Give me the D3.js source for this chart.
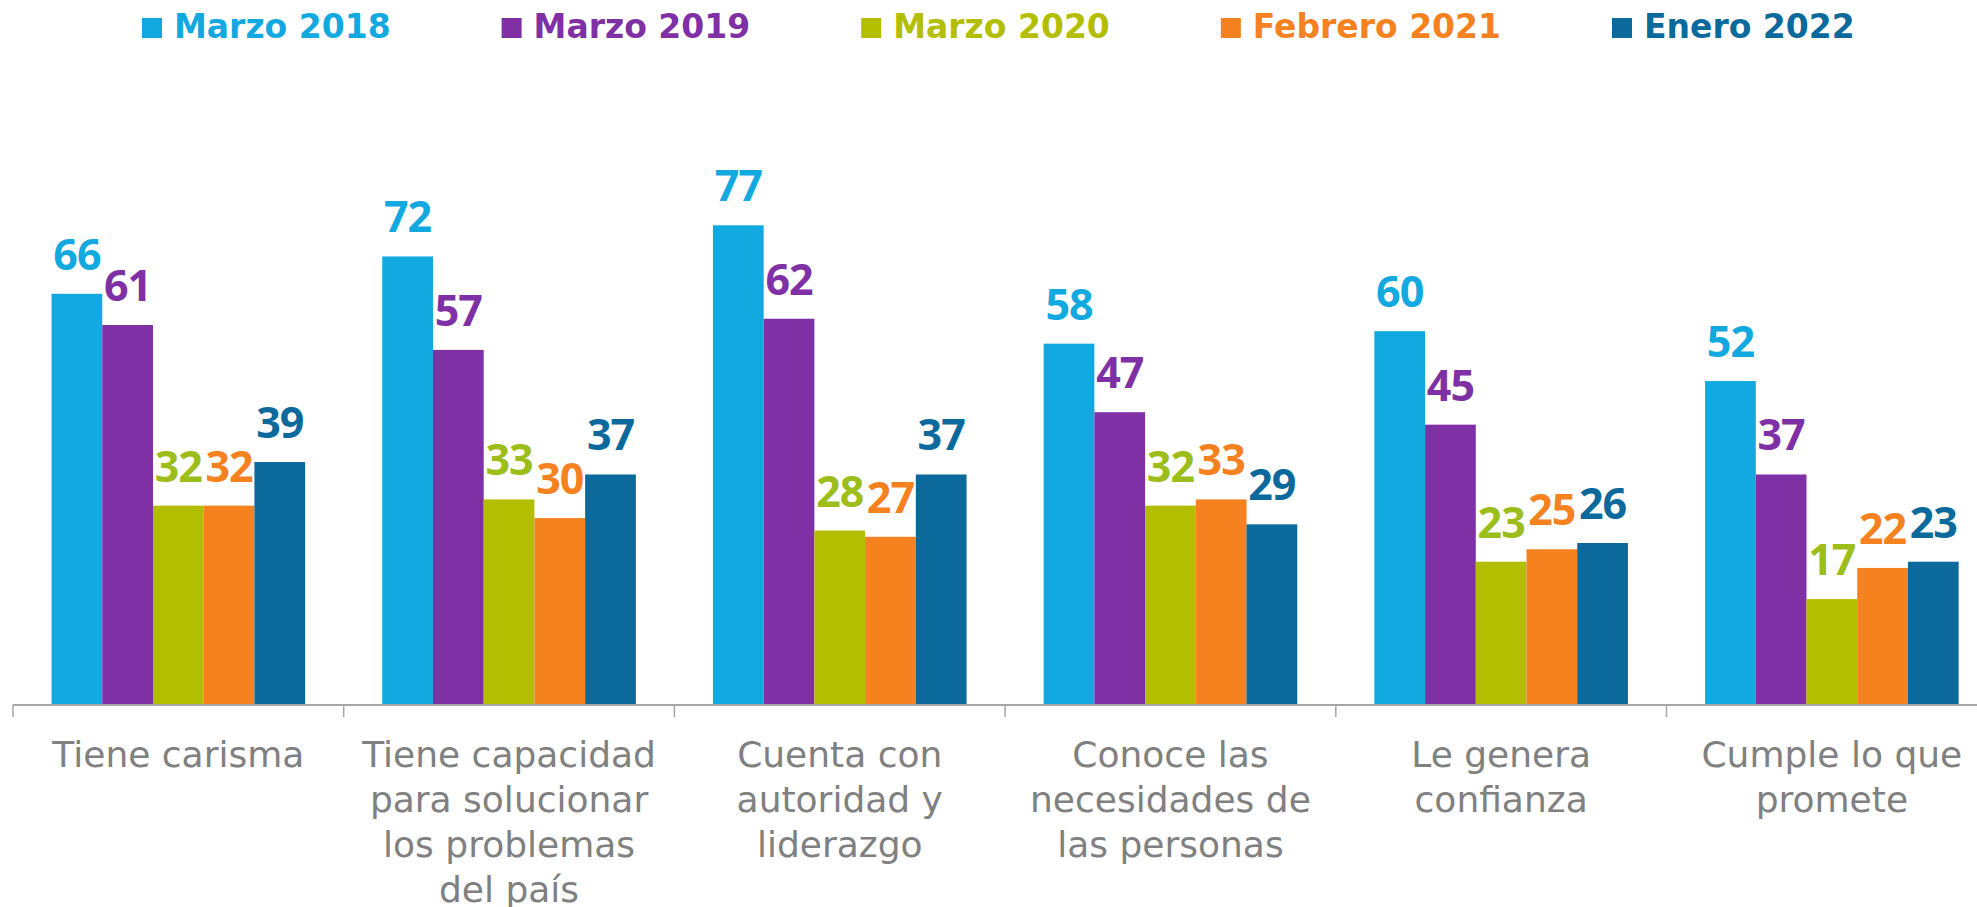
<!DOCTYPE html>
<html>
<head>
<meta charset="utf-8">
<script src="https://cdn.jsdelivr.net/npm/d3@7"></script>
<style>
  body { margin: 0; background: #fff; }
  svg { display: block; }
</style>
</head>
<body>
<svg id="svg" width="1977" height="907"></svg>
<script>
// data
var categories = [
  ["Tiene carisma"],
  ["Tiene capacidad", "para solucionar", "los problemas", "del país"],
  ["Cuenta con", "autoridad y", "liderazgo"],
  ["Conoce las", "necesidades de", "las personas"],
  ["Le genera", "confianza"],
  ["Cumple lo que", "promete"]
];
var series = ["Marzo 2018", "Marzo 2019", "Marzo 2020", "Febrero 2021", "Enero 2022"];
var marzo2018 = [66, 72, 77, 58, 60, 52];
var marzo2019 = [61, 57, 62, 47, 45, 37];
var marzo2020 = [32, 33, 28, 32, 23, 17];
var febrero2021 = [32, 30, 27, 33, 25, 22];
var enero2022 = [39, 37, 37, 29, 26, 23];
var values = [marzo2018, marzo2019, marzo2020, febrero2021, enero2022];

var barColors = ["#12a9e0", "#7f30a5", "#b4be00", "#f5821f", "#0b699c"];
var labelColors = ["#12a9e0", "#7f30a5", "#9dbd1a", "#f5821f", "#0b699c"];

var svg = d3.select("#svg");
var base = 705;
var catKeys = categories.map(function(c) { return c.join(" "); });

var x = d3.scaleBand()
  .domain(catKeys)
  .range([13, 13 + 6 * 330.7])
  .padding(0);

var xs = d3.scaleBand()
  .domain(series)
  .range([0, x.bandwidth()])
  .paddingInner(0)
  .paddingOuter(0.76);

var y = d3.scaleLinear()
  .domain([0, 100])
  .range([base, base - 623]);

// bars
var groups = svg.append("g").selectAll("g")
  .data(catKeys)
  .join("g")
  .attr("transform", function(d) { return "translate(" + x(d) + ",0)"; });

groups.selectAll("rect")
  .data(function(d, i) { return series.map(function(s, j) { return { s: s, j: j, v: values[j][i] }; }); })
  .join("rect")
  .attr("x", function(d) { return xs(d.s); })
  .attr("y", function(d) { return y(d.v); })
  .attr("width", xs.bandwidth())
  .attr("height", function(d) { return base - y(d.v); })
  .attr("fill", function(d) { return barColors[d.j]; });

groups.selectAll("text")
  .data(function(d, i) { return series.map(function(s, j) { return { s: s, j: j, v: values[j][i] }; }); })
  .join("text")
  .attr("x", function(d) { return xs(d.s) + xs.bandwidth() / 2; })
  .attr("y", function(d) { return y(d.v) - 24; })
  .attr("text-anchor", "middle")
  .attr("font-family", "'Open Sans', sans-serif")
  .attr("font-weight", "bold")
  .attr("font-size", 43)
  .attr("letter-spacing", -1)
  .attr("fill", function(d) { return labelColors[d.j]; })
  .text(function(d) { return d.v; });

// axis line and ticks at band edges
var ax = svg.append("g").attr("stroke", "#a6a6a6");
ax.append("line")
  .attr("x1", x.range()[0]).attr("x2", x.range()[1])
  .attr("y1", base).attr("y2", base)
  .attr("stroke-width", 2);
ax.selectAll(".tk")
  .data(catKeys)
  .join("line")
  .attr("class", "tk")
  .attr("x1", function(d) { return x(d); })
  .attr("x2", function(d) { return x(d); })
  .attr("y1", base).attr("y2", base + 12)
  .attr("stroke-width", 1.5);

// category labels
var cl = svg.append("g").selectAll("text")
  .data(categories)
  .join("text")
  .attr("text-anchor", "middle")
  .attr("font-family", "'DejaVu Sans', sans-serif")
  .attr("font-size", 36)
  .attr("fill", "#808080");
cl.selectAll("tspan")
  .data(function(d, i) { return d.map(function(t) { return { t: t, c: catKeys[i] }; }); })
  .join("tspan")
  .attr("x", function(d) { return x(d.c) + x.bandwidth() / 2; })
  .attr("y", function(d, k) { return 767 + k * 45; })
  .text(function(d) { return d.t; });

// legend, laid out left to right
var lx = 142;
series.forEach(function(s, j) {
  svg.append("rect")
    .attr("x", lx).attr("y", 18)
    .attr("width", 20).attr("height", 20)
    .attr("fill", barColors[j]);
  var t = svg.append("text")
    .attr("x", lx + 32).attr("y", 38)
    .attr("font-family", "'DejaVu Sans', sans-serif")
    .attr("font-weight", "bold")
    .attr("font-size", 33)
    .attr("fill", barColors[j])
    .text(s);
  lx += 32 + t.node().getComputedTextLength() + 111;
});
</script>
</body>
</html>
